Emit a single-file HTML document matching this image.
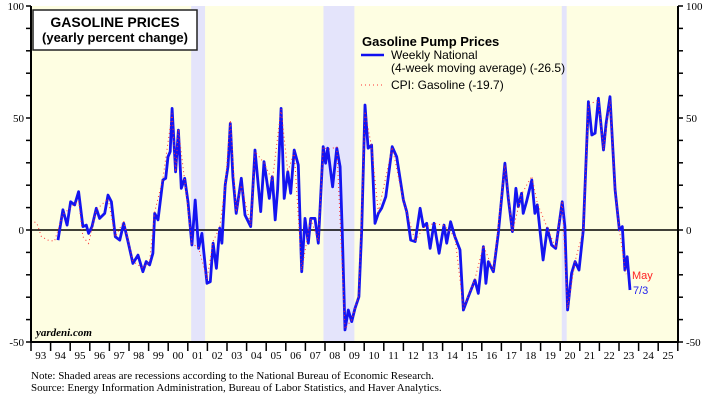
<!DOCTYPE html>
<html><head><meta charset="utf-8"><style>
body{margin:0;background:#fff;}
svg{display:block;font-family:"Liberation Sans",sans-serif;}
</style></head><body>
<svg id="chart" width="720" height="400">
<rect x="31" y="6" width="647" height="336" fill="#fefee2"/>
<g id="rec"></g><g id="grid"></g><g id="series"></g><g id="axes"></g>
<g>
<rect x="33" y="10" width="164" height="40" fill="#fff" stroke="#222" stroke-width="1.5"/>
<text x="115" y="27" text-anchor="middle" font-size="14" font-weight="bold">GASOLINE PRICES</text>
<text x="115" y="42" text-anchor="middle" font-size="13" font-weight="bold">(yearly percent change)</text>
</g>
<g>
<text x="362" y="46" font-size="13" font-weight="bold">Gasoline Pump Prices</text>
<line x1="361" y1="55" x2="384" y2="55" stroke="#1010f0" stroke-width="2.5"/>
<text x="391" y="59" font-size="12">Weekly National</text>
<text x="391" y="72" font-size="12">(4-week moving average) (-26.5)</text>
<line x1="361" y1="85" x2="384" y2="85" stroke="#f33" stroke-width="1" stroke-dasharray="1,3"/>
<text x="391" y="89" font-size="12">CPI: Gasoline (-19.7)</text>
</g>
<text x="632" y="279" font-size="11" fill="#f22">May</text>
<text x="633" y="294" font-size="11" fill="#2222ee">7/3</text>
<text x="36" y="336" font-size="11" font-style="italic" font-weight="bold" font-family="Liberation Serif,serif">yardeni.com</text>
<text x="31" y="379" font-size="11" font-family="Liberation Serif,serif">Note: Shaded areas are recessions according to the National Bureau of Economic Research.</text>
<text x="31" y="391" font-size="11" font-family="Liberation Serif,serif">Source: Energy Information Administration, Bureau of Labor Statistics, and Haver Analytics.</text>
</svg>
<script>
const weeklyX=[1994.38,1994.63,1994.84,1995.02,1995.23,1995.43,1995.65,1995.82,1995.94,1996.11,1996.33,1996.5,1996.76,1996.93,1997.1,1997.3,1997.53,1997.73,1997.95,1998.2,1998.46,1998.71,1998.88,1999.05,1999.22,1999.31,1999.48,1999.73,1999.87,1999.99,2000.1,2000.2,2000.38,2000.52,2000.67,2000.84,2001.01,2001.21,2001.38,2001.55,2001.72,2001.98,2002.15,2002.29,2002.46,2002.63,2002.74,2002.91,2003.05,2003.17,2003.3,2003.47,2003.73,2003.92,2004.21,2004.43,2004.72,2004.89,2005.16,2005.31,2005.46,2005.58,2005.76,2005.92,2006.1,2006.25,2006.43,2006.64,2006.81,2006.98,2007.15,2007.27,2007.49,2007.66,2007.91,2008.03,2008.14,2008.39,2008.6,2008.77,2008.88,2009.02,2009.19,2009.36,2009.53,2009.73,2009.87,2010.04,2010.2,2010.38,2010.55,2010.72,2010.89,2011.1,2011.43,2011.66,2012.0,2012.17,2012.37,2012.6,2012.85,2013.02,2013.19,2013.36,2013.56,2013.82,2014.07,2014.21,2014.41,2014.63,2014.89,2015.06,2015.31,2015.65,2015.82,2016.08,2016.21,2016.33,2016.59,2016.84,2017.18,2017.35,2017.56,2017.74,2017.86,2018.03,2018.11,2018.28,2018.55,2018.71,2018.83,2019.13,2019.34,2019.56,2019.77,2020.1,2020.24,2020.38,2020.58,2020.76,2020.96,2021.18,2021.44,2021.61,2021.78,2021.95,2022.21,2022.34,2022.54,2022.8,2023.02,2023.17,2023.3,2023.42,2023.56];
const weeklyY=[-4.5,9,2.2,12.6,11.2,17.1,1.5,2.2,-1.5,1.5,9.7,5.2,7.4,15.6,12.6,-3,-4.5,3,-5.2,-14.9,-11.2,-18.6,-14.1,-15.6,-10.4,7.4,4.5,22.3,23.1,32.7,35,54.3,26,44.6,18.6,23.1,12.6,-6.7,13.4,-8.2,-1.5,-23.8,-23.1,-5.9,-17.1,0.8,-5.9,20.1,28.3,47.6,23.8,7.4,23.1,6.7,1.5,35.7,8.2,30.5,14.1,23.8,4.5,17.9,54.3,14.1,26,16.4,35.7,29,-18.6,5.2,-5.9,5.2,5.2,-5.9,37.2,29.8,36.5,19.3,36.5,28.3,0,-44.6,-35.7,-40.9,-35,-29.8,0,55.8,36.5,37.9,3,7.4,9.7,14.9,37.2,32.7,13.4,8.2,-4.5,-5.2,9.7,1.5,3,-8.2,3,-10.4,2.2,-5.9,3.7,-3,-8.9,-35.7,-29.8,-22.3,-28.3,-7.4,-23.8,-14.1,-18.6,-1.5,29.8,14.1,-0.7,18.6,10.4,16.4,7.4,12.6,22.3,7.4,11.2,-13.4,0.8,-6.7,-8.2,12.6,1.5,-35.7,-19.3,-14.1,-17.9,0,57.3,42.4,43.2,58.8,35.7,47.6,59.5,17.9,0,1.5,-17.9,-11.9,-26.8];
const cpiX=[1993.0,1993.3,1993.53,1993.87,1994.2,1994.63,1995.02,1995.43,1995.65,1995.94,1996.33,1996.93,1997.3,1997.73,1998.2,1998.71,1999.05,1999.31,1999.73,2000.2,2000.38,2000.52,2000.84,2001.21,2001.55,2001.98,2002.29,2002.63,2002.91,2003.17,2003.47,2003.73,2004.21,2004.43,2004.89,2005.31,2005.76,2006.1,2006.43,2006.81,2007.27,2007.66,2007.91,2008.14,2008.6,2009.02,2009.36,2009.73,2010.04,2010.38,2010.72,2011.43,2012.0,2012.6,2013.02,2013.56,2014.07,2014.63,2015.06,2015.65,2016.08,2016.59,2017.18,2017.56,2018.03,2018.55,2018.83,2019.34,2019.77,2020.1,2020.38,2020.76,2021.18,2021.44,2021.95,2022.21,2022.54,2022.8,2023.02,2023.3,2023.36];
const cpiY=[4.5,3,-3,-4.5,-5,7,10,13,-3,-6,9,14,-3,4,-14,-17,-14,8,23,52,26,45,22,-6,-8,-22,-5,1,20,49,8,20,2,35,30,22,54,26,35,-18,5,-5,37,36,37,-44,-40,-29,53,37,8,37,13,-5,1,3,2,-3,-35,-22,-7,-18,29,-1,16,24,12,1,-8,13,-35,-14,0,56,58,36,58,18,0,-17,-19.7];
const yTicks=[-50,0,50,100];
const years=['93','94','95','96','97','98','99','00','01','02','03','04','05','06','07','08','09','10','11','12','13','14','15','16','17','18','19','20','21','22','23','24','25'];
const recStart=[2001.17,2007.92,2020.08];
const recEnd=[2001.88,2009.5,2020.33];
const NS='http://www.w3.org/2000/svg';
const X=v=>31+(v-1993)*19.6;
const Y=v=>230-v*2.24;
function mk(t,a,p){const e=document.createElementNS(NS,t);for(const k in a)e.setAttribute(k,a[k]);p.appendChild(e);return e;}
const rec=document.getElementById('rec');
recStart.forEach((s,i)=>{const r=mk('rect',{x:X(s),y:6,width:X(recEnd[i])-X(s),height:336,fill:'#e4e4fb'},rec);

});
const ax=document.getElementById('axes');
const zl=mk('line',{x1:31,x2:678,y1:Y(0),y2:Y(0),stroke:'#000','stroke-width':1.5},document.getElementById('grid'));


const frame=mk('path',{d:'M31,6V342H678V6',fill:'none',stroke:'#000','stroke-width':2},ax);


for(let v=-50;v<=100;v+=10){mk('line',{x1:26,x2:31,y1:Y(v),y2:Y(v),stroke:'#000','stroke-width':1.5},ax);mk('line',{x1:678,x2:683,y1:Y(v),y2:Y(v),stroke:'#000','stroke-width':1.5},ax);}
yTicks.forEach(v=>{const l=mk('text',{x:24,y:Y(v)+4,'text-anchor':'end','font-size':11,'font-family':'Liberation Serif,serif'},ax);l.textContent=v;


const r=mk('text',{x:686,y:Y(v)+4,'font-size':11,'font-family':'Liberation Serif,serif'},ax);r.textContent=v;

});
years.forEach((y,i)=>{mk('line',{x1:X(1993+i),x2:X(1993+i),y1:342,y2:351,stroke:'#000','stroke-width':1.5},ax);
const t=mk('text',{x:X(1993.5+i),y:359,'text-anchor':'middle','font-size':11,'font-family':'Liberation Serif,serif'},ax);t.textContent=y;

});
mk('line',{x1:X(2026),x2:X(2026),y1:342,y2:351,stroke:'#000','stroke-width':1.5},ax);
const sg=document.getElementById('series');
const pts=(xs,ys)=>xs.map((x,i)=>X(x).toFixed(1)+','+Y(ys[i]).toFixed(1)).join(' ');
const wl=mk('polyline',{points:pts(weeklyX,weeklyY),fill:'none',stroke:'#1414f0','stroke-width':2.8,'stroke-linejoin':'round'},sg);


const cl=mk('polyline',{points:pts(cpiX,cpiY),fill:'none',stroke:'#ff3030','stroke-width':1,'stroke-dasharray':'1,3'},sg);


</script>
</body></html>
